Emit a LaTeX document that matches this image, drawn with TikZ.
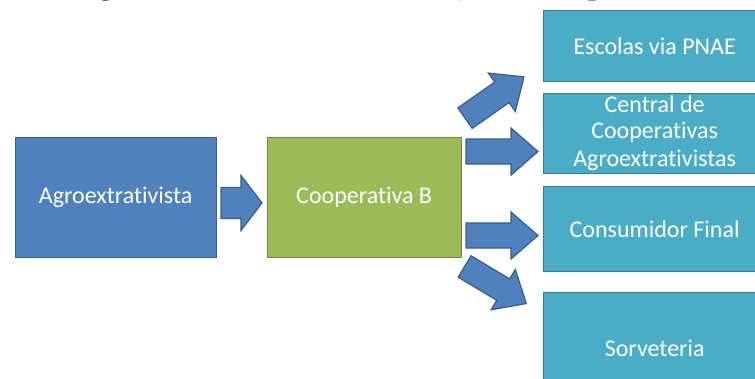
\documentclass[tikz,border=0pt]{standalone}
\usepackage{fontspec}
\setmainfont{Carlito}[Ligatures=NoCommon]
\newfontfamily\captionfont{Liberation Serif}
\definecolor{accblue}{HTML}{4F81BD}
\definecolor{accblueline}{HTML}{385D8A}
\definecolor{accgreen}{HTML}{9BBB59}
\definecolor{accgreenline}{HTML}{71893F}
\definecolor{accteal}{HTML}{4BACC6}
\definecolor{acctealline}{HTML}{357D91}
\tikzset{
  box/.style={rectangle, inner sep=0pt, line width=1.3pt, text=white,
    font=\fontsize{24}{28}\selectfont, align=center, anchor=north west},
  bluebox/.style={box, fill=accblue, draw=accblueline},
  greenbox/.style={box, fill=accgreen, draw=accgreenline},
  tealbox/.style={box, fill=accteal, draw=acctealline},
  barrow/.style={fill=accblue, draw=accblueline, line width=1.2pt, line join=miter},
}
% block arrow: centre, angle, length, shaft width, head width, head length
\newcommand\blockarrow[6]{%
  \draw[barrow, shift={(#1)}, rotate=#2]
    ({-#3/2},{-#4/2}) -- ({#3/2-#6},{-#4/2}) -- ({#3/2-#6},{-#5/2})
    -- ({#3/2},0) -- ({#3/2-#6},{#5/2}) -- ({#3/2-#6},{#4/2})
    -- ({-#3/2},{#4/2}) -- cycle;}
\begin{document}
\begin{tikzpicture}[x=1pt, y=-1pt]
  \useasboundingbox (0,0) rectangle (755,378);
  \clip (0,0) rectangle (755,378);
  \fill[white] (0,0) rectangle (755,378);

  % caption line, only its lower part lies inside the frame
  \node[anchor=base, inner sep=0pt, font=\captionfont\bfseries\fontsize{30}{36}\selectfont]
    (caption) at (383,-5.5) {Figura 1 – Canais de distribuição da cooperativa};

  % main chain
  \node[bluebox, minimum width=201pt, minimum height=120pt] (agro) at (14.5,137) {Agroextrativista};
  \node[greenbox, minimum width=194pt, minimum height=120pt] (coop) at (266.5,137) {Cooperativa B};

  % destinations
  \node[tealbox, minimum width=222pt, minimum height=71pt] (pnae) at (543,10) {Escolas via PNAE};
  \node[tealbox, minimum width=222pt, minimum height=80pt] (central) at (543,93)
    {\raisebox{-2pt}{Central de}\\Cooperativas\\Agroextrativistas};
  \node[tealbox, minimum width=222pt, minimum height=85pt] (final) at (543,186) {Consumidor Final};
  \node[tealbox, minimum width=222pt, minimum height=112pt] (sorv) at (543,292) {Sorveteria};

  % block arrows
  \blockarrow{241.5,203}{0}{41}{31}{55}{21}
  \blockarrow{494.5,97.5}{35}{72}{25}{47}{27}
  \blockarrow{502,151.5}{0}{72}{25}{47}{27}
  \blockarrow{502,235.5}{0}{72}{25}{47}{27}
  \blockarrow{495.5,285}{-31}{72}{25}{47}{27}
\end{tikzpicture}
\end{document}
